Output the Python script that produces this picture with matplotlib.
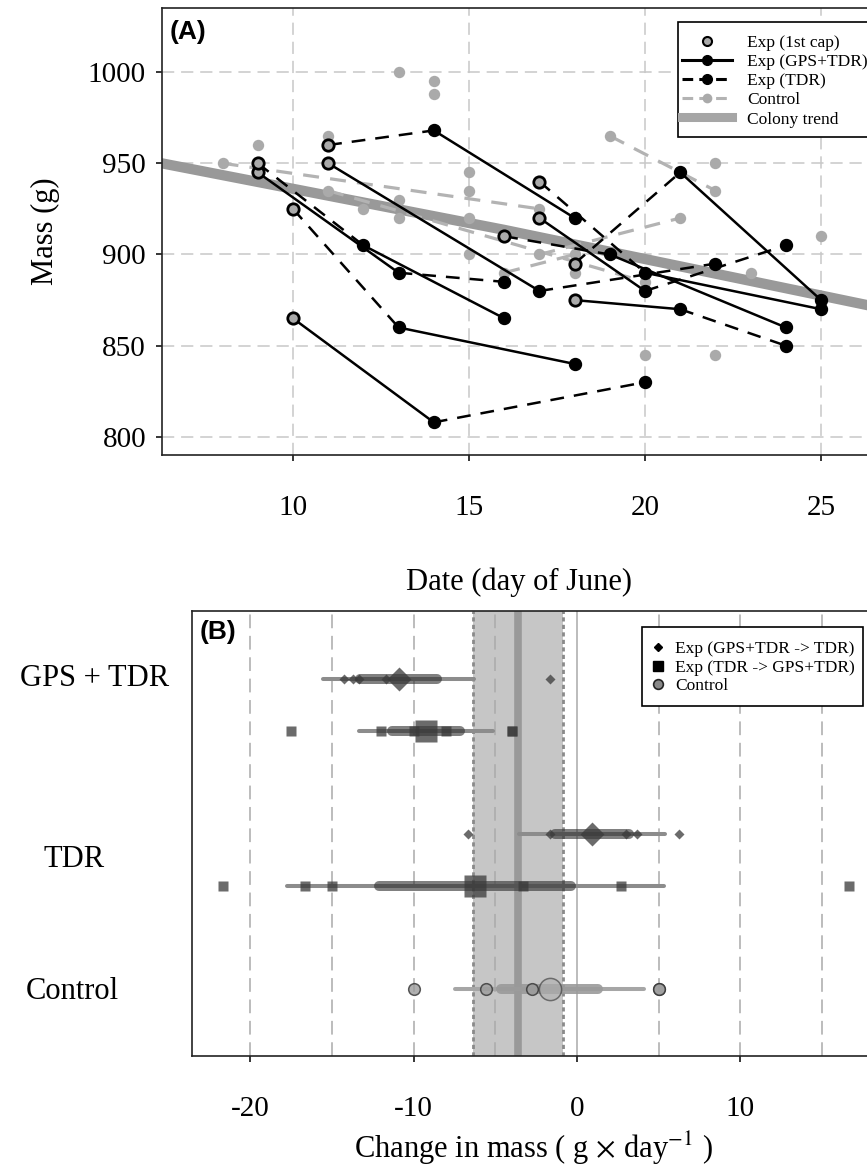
import matplotlib
matplotlib.use('Agg')
import matplotlib.pyplot as plt
from matplotlib.lines import Line2D
from matplotlib.patches import Rectangle
from matplotlib.transforms import blended_transform_factory

plt.rcParams['font.family'] = ['Liberation Serif', 'DejaVu Serif']
plt.rcParams['mathtext.fontset'] = 'stix'

# ---------------- Panel A data ----------------
# experimental birds: 1st capture, then two deployments
exp_days = [[11, 14, 18], [10, 14, 20], [10, 13, 18], [9, 13, 16], [9, 12, 16],
            [11, 17, 22], [16, 19, 24], [17, 20, 25], [18, 21, 25], [18, 21, 24],
            [17, 20, 24]]
exp_mass = [[960, 968, 920], [865, 808, 830], [925, 860, 840], [945, 890, 885],
            [950, 905, 865], [950, 880, 895], [910, 900, 860], [940, 890, 870],
            [895, 945, 875], [875, 870, 850], [920, 880, 905]]
exp_first = ['TDR', 'GPS', 'TDR', 'GPS', 'TDR', 'GPS', 'TDR', 'TDR', 'TDR', 'GPS', 'GPS']

# control birds
ctrl_days = [[8, 17], [19, 22], [17, 21], [11, 20], [16, 18]]
ctrl_mass = [[950, 925], [965, 935], [900, 920], [935, 885], [890, 900]]

# other (unconnected) gray captures
other_days = [9, 11, 12, 13, 13, 13, 14, 14, 15, 15, 15, 15, 18, 20, 22, 22, 23, 25]
other_mass = [960, 965, 925, 1000, 930, 920, 995, 988, 945, 935, 920, 900, 890, 845,
              950, 845, 890, 910]

# colony trend
trend_days = [6, 16, 27]
trend_mass = [951, 913.5, 869.5]

xticks_A = [10, 15, 20, 25]
yticks_A = [800, 850, 900, 950, 1000]

# ---------------- Panel B data ----------------
group_labels = ['GPS + TDR', 'TDR', 'Control']
rate_gpsfirst_gps = [-14.25, -13.75, -13.33, -11.67, -1.67]
rate_tdrfirst_gps = [-12.0, -4.0, -10.0, -8.0, -4.0, -17.5]
rate_gpsfirst_tdr = [3.67, -1.67, 3.0, -6.67, 6.25]
rate_tdrfirst_tdr = [2.67, -21.67, -15.0, -3.33, -16.67, 16.67]
rate_control = [-2.78, -10.0, 5.0, -5.56, 5.0]
row_mean = [-10.93, -9.25, 0.92, -6.22, -1.67]
row_se_lo = [-13.29, -11.35, -1.37, -12.10, -4.63]
row_se_hi = [-8.57, -7.15, 3.20, -0.34, 1.29]
row_ci_lo = [-15.55, -13.37, -3.57, -17.74, -7.46]
row_ci_hi = [-6.31, -5.13, 5.40, 5.30, 4.12]
colony_rate = -3.63
colony_lo = -6.38
colony_hi = -0.86
xticks_B = [-20, -10, 0, 10]
grid_B = [-20, -15, -10, -5, 5, 10, 15]

# ---------------- Figure ----------------
W, H = 867, 1171
fig = plt.figure(figsize=(W / 100, H / 100), dpi=100)


def px_rect(l, t, r, b):
    return [l / W, 1 - b / H, (r - l) / W, (b - t) / H]


def fig_box(l, t, r, b):
    rect = Rectangle((l / W, 1 - b / H), (r - l) / W, (b - t) / H, transform=fig.transFigure,
                     facecolor='white', edgecolor='black', lw=1.2, zorder=9)
    fig.add_artist(rect)


SANS = ['Liberation Sans', 'DejaVu Sans']
TICK_FS = 21
LAB_FS = 22
LEG_FS = 12.5

# ======== Panel A ========
axA = fig.add_axes(px_rect(162, 8, 876, 455))
axA.set_xlim(6.28, 26.56)
axA.set_ylim(790.1, 1035.1)
axA.set_xticks(xticks_A)
axA.set_yticks(yticks_A)
for v in xticks_A:
    axA.axvline(v, color='#c8c8c8', lw=1.1, ls=(0, (8, 4.5)), zorder=0.5)
for v in yticks_A:
    axA.axhline(v, color='#c8c8c8', lw=1.1, ls=(0, (8, 4.5)), zorder=0.5)

axA.plot(trend_days, trend_mass, color='#999999', lw=7.4, solid_capstyle='butt', zorder=1)

for d, m in zip(ctrl_days, ctrl_mass):
    axA.plot(d, m, color='#b3b3b3', lw=2.3, ls=(0, (5, 3.5)), zorder=2)
    axA.plot(d, m, 'o', ms=8.2, color='#aaaaaa', mec='none', zorder=2.5)
axA.plot(other_days, other_mass, 'o', ms=8.2, color='#aaaaaa', mec='none', zorder=2.5)

SOLID = '-'
DASH = (0, (5.5, 4))
for d, m, first in zip(exp_days, exp_mass, exp_first):
    s1, s2 = (SOLID, DASH) if first == 'GPS' else (DASH, SOLID)
    axA.plot(d[0:2], m[0:2], color='black', lw=1.8, ls=s1, zorder=3)
    axA.plot(d[1:3], m[1:3], color='black', lw=1.8, ls=s2, zorder=3)
    axA.plot(d[1:3], m[1:3], 'o', ms=8.6, color='black', zorder=4)
    axA.plot(d[0], m[0], 'o', ms=8.2, mfc='#aaaaaa', mec='black', mew=2.0, zorder=4)

axA.tick_params(axis='x', direction='out', length=4.5, width=1.1, labelsize=TICK_FS, pad=24)
axA.tick_params(axis='y', direction='out', length=4.5, width=1.1, labelsize=TICK_FS, pad=7)
axA.set_xlabel('Date (day of June)', fontsize=LAB_FS, labelpad=34)
axA.set_ylabel('Mass (g)', fontsize=LAB_FS, labelpad=20)
for sp in ['left', 'top', 'bottom']:
    axA.spines[sp].set_linewidth(1.2)
    axA.spines[sp].set_color('#222222')
axA.spines['right'].set_visible(False)
axA.text(0.011, 0.946, '(A)', transform=axA.transAxes, ha='left', va='center',
         fontsize=19, fontweight='bold', family=SANS)

hA = [
    Line2D([], [], ls='none', marker='o', ms=6.5, mfc='#aaaaaa', mec='black', mew=1.5),
    Line2D([], [], color='black', lw=2.2, marker='o', ms=7),
    Line2D([], [], color='black', lw=2.2, ls=(0, (3.5, 2)), marker='o', ms=7),
    Line2D([], [], color='#b3b3b3', lw=2.2, ls=(0, (3.5, 2)), marker='o', ms=7,
           mfc='#aaaaaa', mec='none'),
    Line2D([], [], color='#a6a6a6', lw=6.5),
]
fig_box(678, 22, 872, 137)
legA = fig.legend(hA, ['Exp (1st cap)', 'Exp (GPS+TDR)', 'Exp (TDR)', 'Control', 'Colony trend'],
                  loc='upper left', bbox_to_anchor=(682 / W, 1 - 35 / H),
                  bbox_transform=fig.transFigure, borderaxespad=0, fontsize=LEG_FS,
                  frameon=False, handlelength=2.87, handletextpad=0.86,
                  labelspacing=0.17, borderpad=0)
legA.set_zorder(10)

# ======== Panel B ========
axB = fig.add_axes(px_rect(192, 611, 876, 1056))
axB.set_xlim(-23.58, 18.31)
axB.set_ylim(1.35, 5.657)
axB.set_xticks(xticks_B)
axB.set_yticks([])

axB.axvspan(colony_lo, colony_hi, color='#c6c6c6', lw=0, zorder=0.2)
for v in grid_B:
    axB.axvline(v, color='#aaaaaa', lw=1.1, ls=(0, (9, 5)), zorder=0.5)
axB.axvline(0, color='#aaaaaa', lw=1.1, zorder=0.5)
for v in (colony_lo, colony_hi):
    axB.axvline(v, color='#8a8a8a', lw=2.0, ls=(0, (1.5, 1.2)), zorder=0.6)
axB.axvline(colony_rate, color='#999999', lw=5.5, zorder=0.7)

row_y = [5.0, 4.5, 3.5, 3.0, 2.0]
row_vals = [rate_gpsfirst_gps, rate_tdrfirst_gps, rate_gpsfirst_tdr, rate_tdrfirst_tdr, rate_control]
row_mark = ['D', 's', 'D', 's', 'o']
small_ms = [5.2, 7.8, 5.2, 7.8, 8.4]
big_ms = [12.0, 16.0, 12.0, 16.0, 16.0]

for i, y in enumerate(row_y):
    is_ctrl = row_mark[i] == 'o'
    thin_c = '#a6a6a6' if is_ctrl else '#8c8c8c'
    thick_c = '#9a9a9a' if is_ctrl else '#333333'
    thick_a = 0.9 if is_ctrl else 0.62
    axB.plot([row_ci_lo[i], row_ci_hi[i]], [y, y], color=thin_c, lw=2.9,
             solid_capstyle='round', zorder=2)
    axB.plot([row_se_lo[i], row_se_hi[i]], [y, y], color=thick_c, alpha=thick_a, lw=7.2,
             solid_capstyle='round', zorder=2.2)
    if is_ctrl:
        axB.plot(row_vals[i], [y] * len(row_vals[i]), 'o', ms=small_ms[i], mfc='#9c9c9c',
                 mec='#333333', mew=1.1, alpha=0.8, zorder=3)
        axB.plot(row_mean[i], y, 'o', ms=big_ms[i], mfc='#b0b0b0', mec='#333333', mew=1.1,
                 alpha=0.6, zorder=3.5)
    else:
        axB.plot(row_vals[i], [y] * len(row_vals[i]), row_mark[i], ms=small_ms[i],
                 color='#3a3a3a', mec='none', alpha=0.75, zorder=3)
        axB.plot(row_mean[i], y, row_mark[i], ms=big_ms[i], color='#3a3a3a', mec='none',
                 alpha=0.75, zorder=3.5)

lab_tr = blended_transform_factory(fig.transFigure, axB.transData)
label_y = [5.0, 3.25, 1.97]
label_x = [95, 74, 72]
for t, y, x in zip(group_labels, label_y, label_x):
    fig.text(x / W, y, t, transform=lab_tr, ha='center', va='center', fontsize=LAB_FS)

axB.tick_params(axis='x', direction='out', length=4.5, width=1.1, labelsize=TICK_FS, pad=24)
axB.set_xticklabels([str(v) if v >= 0 else '-' + str(-v) for v in xticks_B])
axB.set_xlabel(r'Change in mass ( g$\,\times\,$day$^{-1}$ )', fontsize=LAB_FS, labelpad=6)
for sp in ['left', 'top', 'bottom']:
    axB.spines[sp].set_linewidth(1.2)
    axB.spines[sp].set_color('#222222')
axB.spines['right'].set_visible(False)
axB.text(0.0117, 0.952, '(B)', transform=axB.transAxes, ha='left', va='center',
         fontsize=19, fontweight='bold', family=SANS)

hB = [
    Line2D([], [], ls='none', marker='D', ms=4.5, color='black'),
    Line2D([], [], ls='none', marker='s', ms=6.5, color='black'),
    Line2D([], [], ls='none', marker='o', ms=7, mfc='#888888', mec='#222222', mew=1.2),
]
fig_box(642, 627, 863, 706)
legB = fig.legend(hB, ['Exp (GPS+TDR -> TDR)', 'Exp (TDR -> GPS+TDR)', 'Control'],
                  loc='upper left', bbox_to_anchor=(649.3 / W, 1 - 641 / H),
                  bbox_transform=fig.transFigure, borderaxespad=0, fontsize=LEG_FS,
                  frameon=False, handlelength=1.0, handletextpad=0.48,
                  labelspacing=0.14, borderpad=0)
legB.set_zorder(10)

fig.savefig('out.png', dpi=100)
